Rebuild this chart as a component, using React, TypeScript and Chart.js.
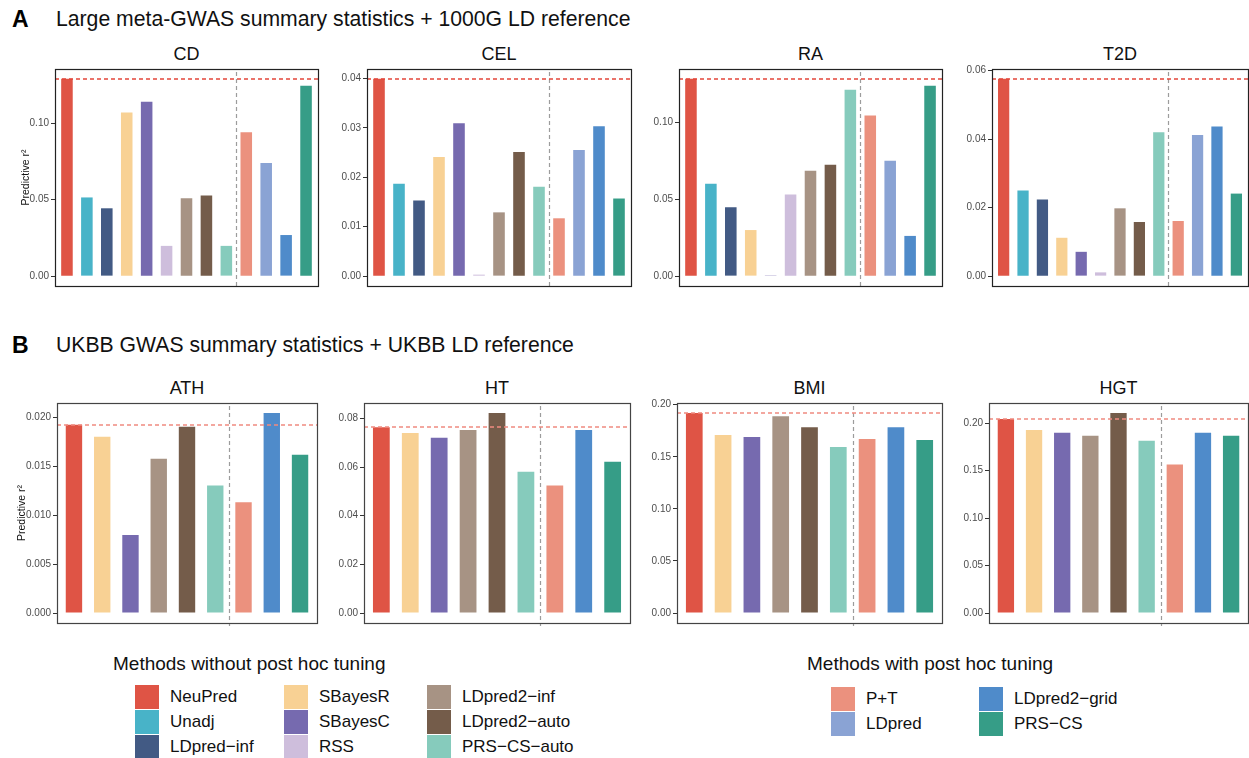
import React, { useEffect, useRef } from "react";
import { Chart, registerables } from "chart.js";
Chart.register(...registerables);

const FONT = "'Liberation Sans', Arial, Helvetica, sans-serif";

// ---------- data ----------
const METHOD_NAMES = [
  "NeuPred", "Unadj", "LDpred−inf", "SBayesR", "SBayesC", "RSS",
  "LDpred2−inf", "LDpred2−auto", "PRS−CS−auto",
  "P+T", "LDpred", "LDpred2−grid", "PRS−CS",
];
const METHOD_COLORS = [
  "#DF5445", "#48B3C8", "#425A84", "#F8D194", "#766AAF", "#CEBEDC",
  "#A79384", "#745C4A", "#86CBBC",
  "#EB917E", "#8AA3D4", "#4F8BCA", "#369D87",
];

const METHODS_A = [
  "NeuPred", "Unadj", "LDpred−inf", "SBayesR", "SBayesC", "RSS",
  "LDpred2−inf", "LDpred2−auto", "PRS−CS−auto",
  "P+T", "LDpred", "LDpred2−grid", "PRS−CS",
];
const METHODS_B = [
  "NeuPred", "SBayesR", "SBayesC", "LDpred2−inf", "LDpred2−auto", "PRS−CS−auto",
  "P+T", "LDpred2−grid", "PRS−CS",
];
const SPLIT_A = 9; // methods without post hoc tuning in row A
const SPLIT_B = 6;

const CD = [0.1291, 0.0515, 0.0444, 0.1071, 0.1142, 0.0198, 0.0509, 0.0528, 0.0198, 0.0942, 0.0741, 0.0269, 0.1246];
const CEL = [0.0399, 0.0187, 0.0153, 0.0241, 0.0309, 0.0003, 0.0129, 0.0251, 0.0181, 0.0117, 0.0255, 0.0303, 0.0157];
const RA = [0.1280, 0.0600, 0.0447, 0.0299, 0.0005, 0.0530, 0.0684, 0.0722, 0.1210, 0.1043, 0.0748, 0.0261, 0.1235];
const T2D = [0.0576, 0.0250, 0.0224, 0.0112, 0.0071, 0.0011, 0.0198, 0.0158, 0.0420, 0.0161, 0.0412, 0.0437, 0.0241];
const ATH = [0.01926, 0.01804, 0.00799, 0.0158, 0.01905, 0.01306, 0.01134, 0.02047, 0.0162];
const HT = [0.0763, 0.0740, 0.0720, 0.0752, 0.0822, 0.0581, 0.0524, 0.0752, 0.0622];
const BMI = [0.1920, 0.1708, 0.1690, 0.1889, 0.1784, 0.1594, 0.1670, 0.1784, 0.1661];
const HGT = [0.2045, 0.1930, 0.1899, 0.1868, 0.2108, 0.1815, 0.1564, 0.1899, 0.1868];

const TICKS_CD = ["0.00", "0.05", "0.10"];
const TICKS_CEL = ["0.00", "0.01", "0.02", "0.03", "0.04"];
const TICKS_RA = ["0.00", "0.05", "0.10"];
const TICKS_T2D = ["0.00", "0.02", "0.04", "0.06"];
const TICKS_ATH = ["0.000", "0.005", "0.010", "0.015", "0.020"];
const TICKS_HT = ["0.00", "0.02", "0.04", "0.06", "0.08"];
const TICKS_BMI = ["0.00", "0.05", "0.10", "0.15", "0.20"];
const TICKS_HGT = ["0.00", "0.05", "0.10", "0.15", "0.20"];

const LEGEND_UNTUNED = [
  ["NeuPred", "Unadj", "LDpred−inf"],
  ["SBayesR", "SBayesC", "RSS"],
  ["LDpred2−inf", "LDpred2−auto", "PRS−CS−auto"],
];
const LEGEND_TUNED = [
  ["P+T", "LDpred"],
  ["LDpred2−grid", "PRS−CS"],
];

const colorOf = (m: string) => METHOD_COLORS[METHOD_NAMES.indexOf(m)];

// ---------- plugin ----------
function makeDecor(split: number, refColor: string, boxColor: string) {
  return {
    id: "decor",
    afterDatasetsDraw(chart: any) {
      const { ctx, chartArea } = chart;
      const { left, right, top, bottom } = chartArea;
      const x = chart.scales.x;
      const y = chart.scales.y;
      ctx.save();
      // split line
      const xp = Math.round(x.getPixelForValue(split + 0.5)) + 0.5;
      ctx.strokeStyle = "#9c9c9c";
      ctx.lineWidth = 1.2;
      ctx.setLineDash([4, 3]);
      ctx.beginPath();
      ctx.moveTo(xp, top + 3);
      ctx.lineTo(xp, bottom + 3);
      ctx.stroke();
      // reference (NeuPred) line
      const ref = chart.data.datasets[0].data[0].y;
      const yp = Math.round(y.getPixelForValue(ref));
      ctx.strokeStyle = refColor;
      ctx.lineWidth = 1.5;
      ctx.setLineDash([4, 3]);
      ctx.beginPath();
      ctx.moveTo(left, yp);
      ctx.lineTo(right, yp);
      ctx.stroke();
      // box
      ctx.setLineDash([]);
      ctx.strokeStyle = boxColor;
      ctx.lineWidth = 1.2;
      ctx.strokeRect(Math.round(left) + 0.5, Math.round(top) + 0.5, Math.round(right - left), Math.round(bottom - top));
      ctx.restore();
    },
  };
}

type Box = { left: number; top: number; w: number; h: number };

const AXW = 55;
const PT = 8;
const PR = 4;
const PB = 6;

function Panel(props: {
  title: string;
  methods: string[];
  values: number[];
  ticks: string[];
  box: Box;
  split: number;
  yTitle: boolean;
  yTitlePad: number;
  refColor: string;
  boxColor: string;
}) {
  const { title, methods, values, ticks, box, split, yTitle, yTitlePad, refColor, boxColor } = props;
  const ref = useRef<HTMLCanvasElement>(null);
  const cw = AXW + box.w + PR;
  const ch = box.h + PT + PB;
  useEffect(() => {
    const vmax = Math.max(...values);
    const chart = new Chart(ref.current as HTMLCanvasElement, {
      type: "bar",
      data: {
        datasets: [
          {
            data: values.map((v, i) => ({ x: i + 1, y: v })),
            backgroundColor: methods.map(colorOf),
            borderWidth: 0,
            barPercentage: 0.58,
            categoryPercentage: 1,
          } as any,
        ],
      },
      options: {
        responsive: false,
        animation: false,
        devicePixelRatio: 1,
        layout: { padding: { top: PT, right: PR, bottom: PB, left: 0 } },
        plugins: {
          legend: { display: false },
          tooltip: { enabled: false },
        },
        scales: {
          x: {
            type: "linear",
            min: 0.4,
            max: values.length + 0.6,
            display: false,
            offset: false,
          },
          y: {
            min: -0.05 * vmax,
            max: 1.05 * vmax,
            afterFit: (a: any) => {
              a.width = AXW;
            },
            afterBuildTicks: (a: any) => {
              a.ticks = ticks.map((t) => ({ value: parseFloat(t) }));
            },
            ticks: {
              callback: (_v: any, i: number) => ticks[i],
              font: { family: FONT, size: 10 },
              color: "#4D4D4D",
              padding: 2,
              autoSkip: false,
            },
            grid: {
              drawOnChartArea: false,
              drawTicks: true,
              tickLength: 4,
              color: "#333333",
              lineWidth: 1,
            },
            border: { display: false },
            title: {
              display: yTitle,
              text: "Predictive r²",
              font: { family: FONT, size: 10.5 },
              color: "#111111",
              padding: { top: yTitlePad, bottom: 0 },
            },
          },
        } as any,
      },
      plugins: [makeDecor(split, refColor, boxColor)],
    });
    return () => chart.destroy();
  }, []);
  return (
    <>
      <div
        style={{
          position: "absolute",
          left: box.left,
          width: box.w,
          top: box.top - 25,
          height: 20,
          lineHeight: "20px",
          fontSize: 18,
          textAlign: "center",
          color: "#111",
        }}
      >
        {title}
      </div>
      <canvas
        ref={ref}
        width={cw}
        height={ch}
        style={{ position: "absolute", left: box.left - AXW, top: box.top - PT, width: cw, height: ch }}
      />
    </>
  );
}

function LegendGroup(props: { title: string; titleLeft: number; cols: string[][]; colX: number[]; rowTop: number }) {
  const { title, titleLeft, cols, colX, rowTop } = props;
  return (
    <>
      <div style={{ position: "absolute", left: titleLeft, top: 653, fontSize: 19, lineHeight: "22px", color: "#111", whiteSpace: "nowrap" }}>
        {title}
      </div>
      {cols.map((col, ci) =>
        col.map((m, ri) => (
          <React.Fragment key={m}>
            <div
              style={{
                position: "absolute",
                left: colX[ci],
                top: rowTop + ri * 25,
                width: 24,
                height: 24,
                background: colorOf(m),
              }}
            />
            <div
              style={{
                position: "absolute",
                left: colX[ci] + 35,
                top: rowTop + ri * 25 + 2,
                height: 20,
                lineHeight: "20px",
                fontSize: 17,
                color: "#111",
                whiteSpace: "nowrap",
              }}
            >
              {m}
            </div>
          </React.Fragment>
        ))
      )}
    </>
  );
}

export default function App() {
  useEffect(() => {
    document.body.style.margin = "0";
    document.body.style.overflow = "hidden";
  }, []);
  Chart.defaults.font.family = FONT;
  const rowA = { top: 69, h: 219 };
  const rowB = { top: 403, h: 222 };
  const redA = "#E3463A";
  const redB = "#F08A80";
  return (
    <div
      style={{
        position: "absolute",
        left: 0,
        top: 0,
        width: 1249,
        height: 758,
        overflow: "hidden",
        background: "#fff",
        fontFamily: FONT,
      }}
    >
      <div style={{ position: "absolute", left: 12, top: 6, fontSize: 23, fontWeight: "bold", lineHeight: "26px" }}>A</div>
      <div style={{ position: "absolute", left: 56, top: 7, fontSize: 21.2, lineHeight: "24px", color: "#111", whiteSpace: "nowrap" }}>
        Large meta-GWAS summary statistics + 1000G LD reference
      </div>
      <div style={{ position: "absolute", left: 12, top: 332, fontSize: 23, fontWeight: "bold", lineHeight: "26px" }}>B</div>
      <div style={{ position: "absolute", left: 56, top: 333, fontSize: 21.2, lineHeight: "24px", color: "#111", whiteSpace: "nowrap" }}>
        UKBB GWAS summary statistics + UKBB LD reference
      </div>

      <Panel title="CD" methods={METHODS_A} values={CD} ticks={TICKS_CD} box={{ left: 55, w: 263, ...rowA }} split={SPLIT_A} yTitle yTitlePad={20} refColor={redA} boxColor="#222" />
      <Panel title="CEL" methods={METHODS_A} values={CEL} ticks={TICKS_CEL} box={{ left: 367, w: 264, ...rowA }} split={SPLIT_A} yTitle={false} yTitlePad={0} refColor={redA} boxColor="#222" />
      <Panel title="RA" methods={METHODS_A} values={RA} ticks={TICKS_RA} box={{ left: 679, w: 263, ...rowA }} split={SPLIT_A} yTitle={false} yTitlePad={0} refColor={redA} boxColor="#222" />
      <Panel title="T2D" methods={METHODS_A} values={T2D} ticks={TICKS_T2D} box={{ left: 992, w: 256, ...rowA }} split={SPLIT_A} yTitle={false} yTitlePad={0} refColor={redA} boxColor="#222" />

      <Panel title="ATH" methods={METHODS_B} values={ATH} ticks={TICKS_ATH} box={{ left: 57, w: 260, ...rowB }} split={SPLIT_B} yTitle yTitlePad={14} refColor={redB} boxColor="#444" />
      <Panel title="HT" methods={METHODS_B} values={HT} ticks={TICKS_HT} box={{ left: 364, w: 266, ...rowB }} split={SPLIT_B} yTitle={false} yTitlePad={0} refColor={redB} boxColor="#444" />
      <Panel title="BMI" methods={METHODS_B} values={BMI} ticks={TICKS_BMI} box={{ left: 677, w: 265, ...rowB }} split={SPLIT_B} yTitle={false} yTitlePad={0} refColor={redB} boxColor="#444" />
      <Panel title="HGT" methods={METHODS_B} values={HGT} ticks={TICKS_HGT} box={{ left: 989, w: 259, ...rowB }} split={SPLIT_B} yTitle={false} yTitlePad={0} refColor={redB} boxColor="#444" />

      <LegendGroup title="Methods without post hoc tuning" titleLeft={113} cols={LEGEND_UNTUNED} colX={[135, 284, 427]} rowTop={685} />
      <LegendGroup title="Methods with post hoc tuning" titleLeft={807} cols={LEGEND_TUNED} colX={[831, 979]} rowTop={687} />
    </div>
  );
}
